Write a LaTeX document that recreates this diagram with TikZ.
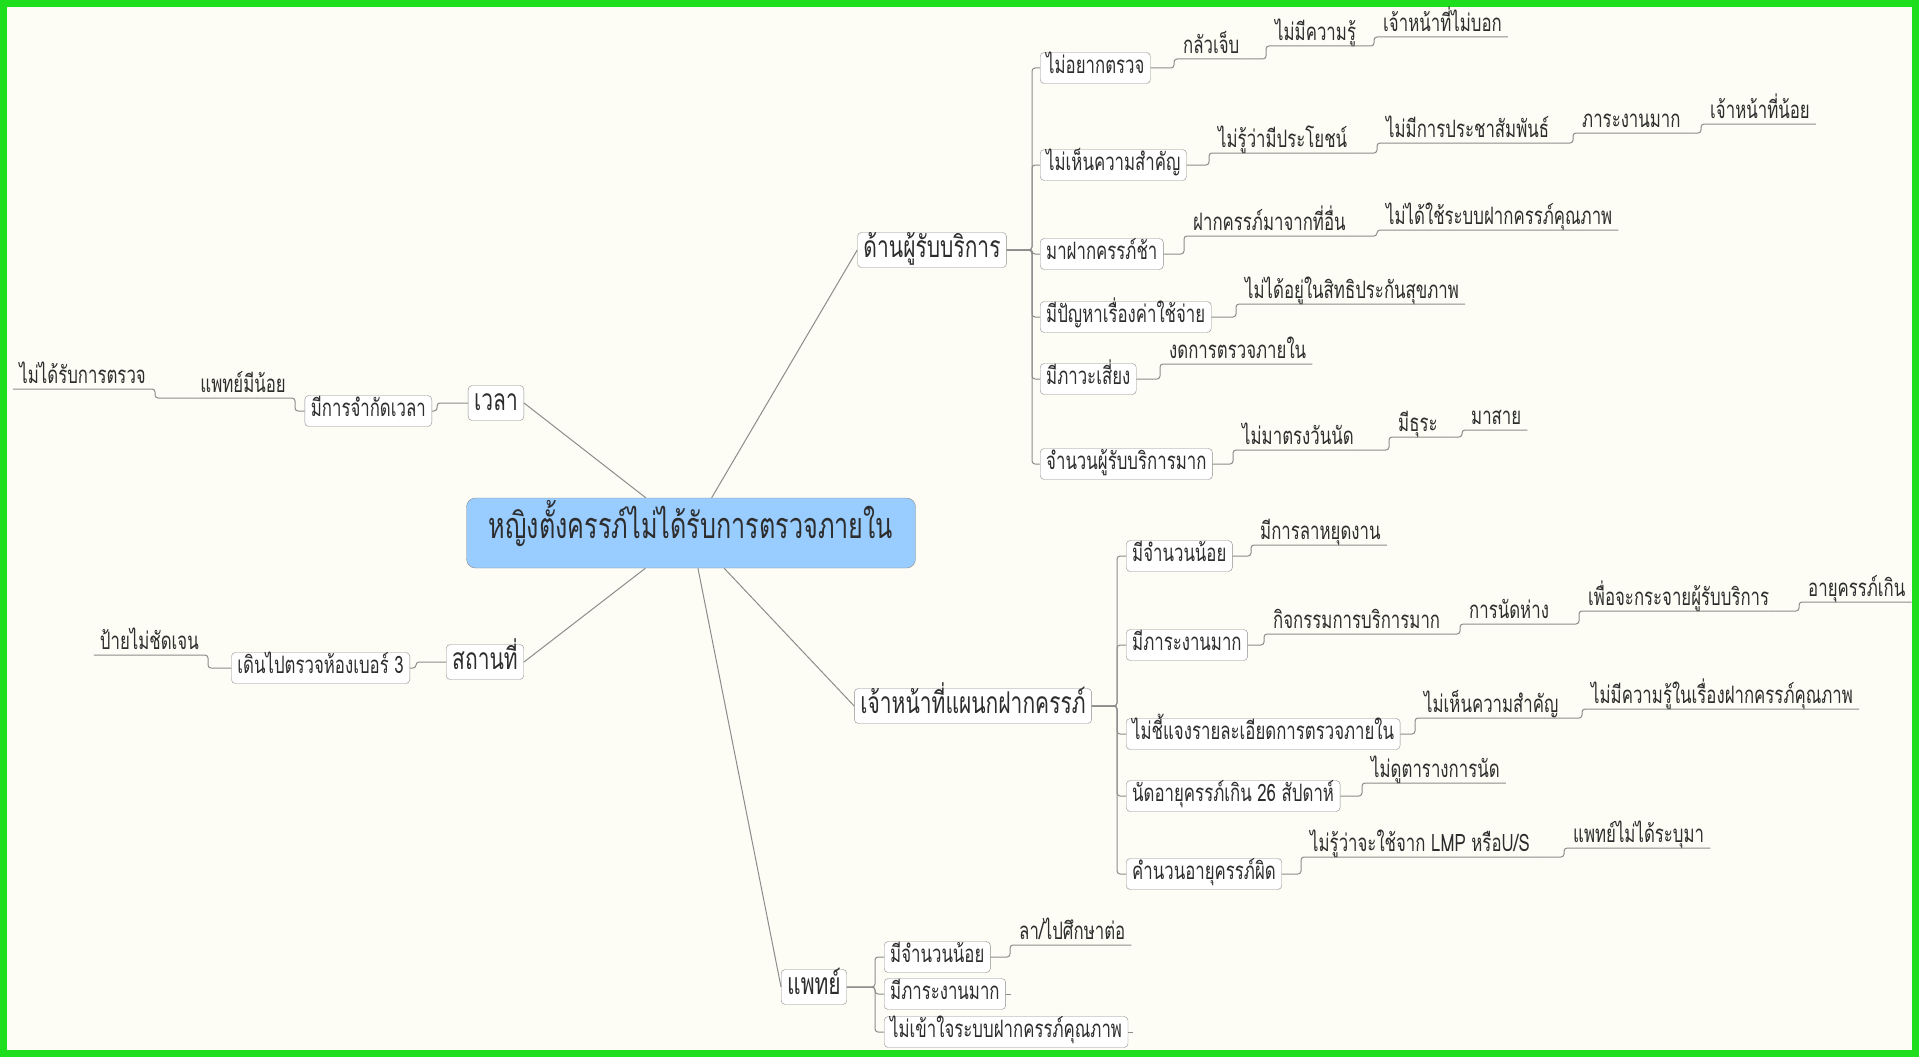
\documentclass[tikz,border=0pt]{standalone}
\usepackage{fontspec}
\setmainfont{Loma}[Script=Thai,FakeStretch=0.7]
\usetikzlibrary{positioning}
\definecolor{paper}{RGB}{253,253,246}
\definecolor{frame}{RGB}{30,222,30}
\definecolor{wire}{RGB}{140,140,140}
\definecolor{ink}{RGB}{45,45,45}
\definecolor{rootfill}{RGB}{153,204,255}
\begin{document}
\begin{tikzpicture}[x=1pt,y=-1pt,
  every node/.style={text=ink,font=\fontsize{24}{26}\selectfont},
  topic/.style={draw=wire,fill=white,rounded corners=4pt,inner xsep=6pt,inner ysep=5pt,text height=16pt,text depth=5pt},
  branch/.style={topic,font=\fontsize{30}{32}\selectfont,inner ysep=5pt,text height=20pt,text depth=5pt},
  rootbox/.style={topic,fill=rootfill,font=\fontsize{36}{40}\selectfont,minimum width=449pt,minimum height=70pt,rounded corners=9pt},
  lbl/.style={inner xsep=6pt,inner ysep=1pt,text height=16pt,text depth=4pt},
  link/.style={draw=wire,line width=1pt,rounded corners=3pt}]
  \useasboundingbox (0,0) rectangle (1919,1057);
  \fill[paper] (0,0) rectangle (1919,1057);
  \draw[frame,line width=7pt] (3.5,3.5) rectangle (1915.5,1053.5);

  \node[rootbox] (root) at (691,533) {หญิงตั้งครรภ์ไม่ได้รับการตรวจภายใน};

  \node[branch] (client) at (932,250) {ด้านผู้รับบริการ};
  \node[branch] (staff) at (973,706) {เจ้าหน้าที่แผนกฝากครรภ์};
  \node[branch] (doctor) at (814,987) {แพทย์};
  \node[branch] (time) at (496,403) {เวลา};
  \node[branch] (place) at (485,662) {สถานที่};

  \node[topic,anchor=west] (c1) at (1040,68) {ไม่อยากตรวจ};
  \node[topic,anchor=west] (c2) at (1040,165) {ไม่เห็นความสำคัญ};
  \node[topic,anchor=west] (c3) at (1040,254) {มาฝากครรภ์ช้า};
  \node[topic,anchor=west] (c4) at (1040,317) {มีปัญหาเรื่องค่าใช้จ่าย};
  \node[topic,anchor=west] (c5) at (1040,379) {มีภาวะเสี่ยง};
  \node[topic,anchor=west] (c6) at (1040,464) {จำนวนผู้รับบริการมาก};

  \node[lbl,anchor=south west] (c11) at (1177,59) {กลัวเจ็บ};
  \node[lbl,anchor=south west] (c12) at (1269,46) {ไม่มีความรู้};
  \node[lbl,anchor=south west] (c13) at (1377,37) {เจ้าหน้าที่ไม่บอก};
  \node[lbl,anchor=south west] (c21) at (1212,153) {ไม่รู้ว่ามีประโยชน์};
  \node[lbl,anchor=south west] (c22) at (1380,143) {ไม่มีการประชาสัมพันธ์};
  \node[lbl,anchor=south west] (c23) at (1576,133) {ภาระงานมาก};
  \node[lbl,anchor=south west] (c24) at (1704,124) {เจ้าหน้าที่น้อย};
  \node[lbl,anchor=south west] (c31) at (1187,236) {ฝากครรภ์มาจากที่อื่น};
  \node[lbl,anchor=south west] (c32) at (1380,230) {ไม่ได้ใช้ระบบฝากครรภ์คุณภาพ};
  \node[lbl,anchor=south west] (c41) at (1239,304) {ไม่ได้อยู่ในสิทธิประกันสุขภาพ};
  \node[lbl,anchor=south west] (c51) at (1163,364) {งดการตรวจภายใน};
  \node[lbl,anchor=south west] (c61) at (1236,450) {ไม่มาตรงวันนัด};
  \node[lbl,anchor=south west] (c62) at (1392,437) {มีธุระ};
  \node[lbl,anchor=south west] (c63) at (1465,430) {มาสาย};

  \node[topic,anchor=west] (s1) at (1126,556) {มีจำนวนน้อย};
  \node[topic,anchor=west] (s2) at (1126,645) {มีภาระงานมาก};
  \node[topic,anchor=west] (s3) at (1126,734) {ไม่ชี้แจงรายละเอียดการตรวจภายใน};
  \node[topic,anchor=west] (s4) at (1126,796) {นัดอายุครรภ์เกิน 26 สัปดาห์};
  \node[topic,anchor=west] (s5) at (1126,874) {คำนวนอายุครรภ์ผิด};

  \node[lbl,anchor=south west] (s11) at (1254,545) {มีการลาหยุดงาน};
  \node[lbl,anchor=south west] (s21) at (1267,634) {กิจกรรมการบริการมาก};
  \node[lbl,anchor=south west] (s22) at (1463,624) {การนัดห่าง};
  \node[lbl,anchor=south west] (s23) at (1582,611) {เพื่อจะกระจายผู้รับบริการ};
  \node[lbl,anchor=south west] (s24) at (1802,602) {อายุครรภ์เกิน};
  \node[lbl,anchor=south west] (s31) at (1418,718) {ไม่เห็นความสำคัญ};
  \node[lbl,anchor=south west] (s32) at (1585,709) {ไม่มีความรู้ในเรื่องฝากครรภ์คุณภาพ};
  \node[lbl,anchor=south west] (s41) at (1365,783) {ไม่ดูตารางการนัด};
  \node[lbl,anchor=south west] (s51) at (1304,857) {ไม่รู้ว่าจะใช้จาก LMP หรือU/S};
  \node[lbl,anchor=south west] (s52) at (1567,848) {แพทย์ไม่ได้ระบุมา};

  \node[topic,anchor=west] (d1) at (884,957) {มีจำนวนน้อย};
  \node[topic,anchor=west] (d2) at (884,994) {มีภาระงานมาก};
  \node[topic,anchor=west] (d3) at (884,1032) {ไม่เข้าใจระบบฝากครรภ์คุณภาพ};
  \node[lbl,anchor=south west] (d11) at (1013,945) {ลา/ไปศึกษาต่อ};
  \coordinate[right=5pt of d2] (d2end);
  \coordinate[right=5pt of d3] (d3end);

  \node[topic,anchor=east] (t1) at (432,411) {มีการจำกัดเวลา};
  \node[lbl,anchor=south east] (t2) at (292,398) {แพทย์มีน้อย};
  \node[lbl,anchor=south east] (t3) at (152,389) {ไม่ได้รับการตรวจ};

  \node[topic,anchor=east] (p1) at (410,668) {เดินไปตรวจห้องเบอร์ 3};
  \node[lbl,anchor=south east] (p2) at (205,655) {ป้ายไม่ชัดเจน};

  \begin{scope}[draw=wire,line width=1pt]
    \draw (root) -- (client.west);
    \draw (root) -- (staff.west);
    \draw (root) -- (doctor.west);
    \draw (root) -- (time.east);
    \draw (root) -- (place.east);
  \end{scope}

  \begin{scope}[link]
    \foreach \n in {c1,c2,c3,c4,c5,c6}
      \draw (client.east) -| ([xshift=-8pt]\n.west) -- (\n.west);
    \foreach \n in {s1,s2,s3,s4,s5}
      \draw (staff.east) -| ([xshift=-9pt]\n.west) -- (\n.west);
    \foreach \n in {d1,d2,d3}
      \draw (doctor.east) -| ([xshift=-9pt]\n.west) -- (\n.west);
    \foreach \a/\b in {c1/c11,c2/c21,c3/c31,c4/c41,c5/c51,c6/c61,s1/s11,s2/s21,s3/s31,s4/s41,s5/s51,d1/d11}
      \draw (\a.east) -| ([xshift=-3pt]\b.south west) -- (\b.south east);
    \foreach \a/\b in {c11/c12,c12/c13,c21/c22,c22/c23,c23/c24,c31/c32,c61/c62,c62/c63,s21/s22,s22/s23,s23/s24,s31/s32,s51/s52}
      \draw (\a.south east) -| ([xshift=-3pt]\b.south west) -- (\b.south east);
    \draw (d2.east) -- (d2end);
    \draw (d3.east) -- (d3end);
    \draw (time.west) -| ([xshift=5pt]t1.east) -- (t1.east);
    \draw (t1.west) -| ([xshift=3pt]t2.south east) -- (t2.south west);
    \draw (t2.south west) -| ([xshift=3pt]t3.south east) -- (t3.south west);
    \draw (place.west) -| ([xshift=6pt]p1.east) -- (p1.east);
    \draw (p1.west) -| ([xshift=3pt]p2.south east) -- (p2.south west);
  \end{scope}
\end{tikzpicture}
\end{document}
